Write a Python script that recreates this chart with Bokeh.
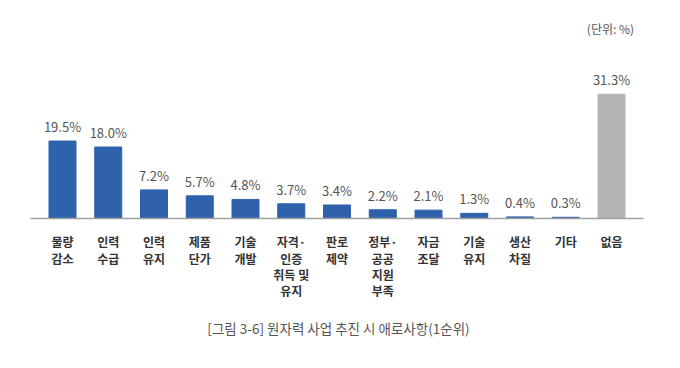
from bokeh.plotting import figure
from bokeh.models import ColumnDataSource, Label
from bokeh.core.properties import value
from bokeh.embed import file_html
from bokeh.resources import INLINE

categories = ["물량\n감소", "인력\n수급", "인력\n유지", "제품\n단가", "기술\n개발",
              "자격·\n인증\n취득 및\n유지", "판로\n제약", "정부·\n공공\n지원\n부족",
              "자금\n조달", "기술\n유지", "생산\n차질", "기타", "없음"]
values = [19.5, 18.0, 7.2, 5.7, 4.8, 3.7, 3.4, 2.2, 2.1, 1.3, 0.4, 0.3, 31.3]
value_labels = ["19.5%", "18.0%", "7.2%", "5.7%", "4.8%", "3.7%", "3.4%", "2.2%",
                "2.1%", "1.3%", "0.4%", "0.3%", "31.3%"]
bar_colors = ["#2e62ab"] * 12 + ["#b4b4b4"]
unit_text = "(단위: %)"
caption_text = "[그림 3-6] 원자력 사업 추진 시 애로사항(1순위)"

FONT = "Noto Sans CJK KR"
xs = list(range(len(categories)))
zeros = [0] * len(categories)

src = ColumnDataSource(dict(x=xs, top=values, color=bar_colors, vlab=value_labels,
                            cat=categories, zero=zeros))

p = figure(width=664, height=352, output_backend="svg", toolbar_location=None,
           x_range=(-1.355, 13.158), y_range=(-33.75, 54.9), min_border=0)
p.axis.visible = False
p.grid.visible = False
p.outline_line_color = None
p.background_fill_color = "white"

p.vbar(x="x", top="top", bottom=0, width=0.59, color="color", source=src)

p.segment(x0=[-0.7], y0=[0], x1=[12.7], y1=[0], line_color="#a0a0a0", line_width=1.5)

p.text(x="x", y="top", text="vlab", source=src, text_align="center",
       text_baseline="bottom", y_offset=-5, text_font=value(FONT),
       text_font_size="13px", text_color="#555555")

p.text(x="x", y="zero", text="cat", source=src, text_align="center",
       text_baseline="top", y_offset=15, text_font=value(FONT),
       text_font_size="12px", text_font_style="bold", text_color="#333333",
       text_line_height=0.96)

p.add_layout(Label(x=610, y=324, x_units="screen", y_units="screen", text=unit_text,
                   text_align="center", text_baseline="middle", text_font=FONT,
                   text_font_size="12px", text_color="#555555"))
p.add_layout(Label(x=338, y=25, x_units="screen", y_units="screen", text=caption_text,
                   text_align="center", text_baseline="middle", text_font=FONT,
                   text_font_size="13.5px", text_color="#555555"))

open("out.html", "w").write(file_html(p, INLINE))
